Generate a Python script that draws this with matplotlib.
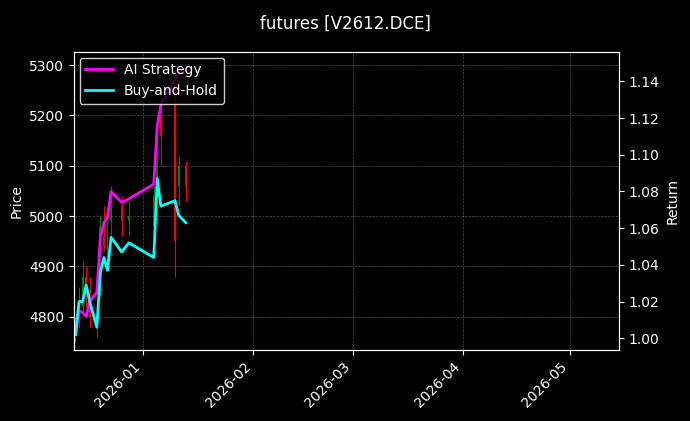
import pandas as pd
import matplotlib
matplotlib.use("Agg")
import matplotlib.pyplot as plt
from matplotlib.ticker import MultipleLocator, FormatStrFormatter

plt.style.use("dark_background")

dates = pd.to_datetime([
    "2025-12-13", "2025-12-14", "2025-12-15", "2025-12-16", "2025-12-17",
    "2025-12-19", "2025-12-20", "2025-12-21", "2025-12-22", "2025-12-23",
    "2025-12-26", "2025-12-28", "2026-01-04", "2026-01-05", "2026-01-06",
    "2026-01-10", "2026-01-11", "2026-01-13",
])
opens = [4760, 4790, 4820, 4880, 4850, 4790, 4850, 4960, 4930, 4990, 5020, 4990, 4980, 5050, 5200, 5280, 5060, 5100]
highs = [4800, 4860, 4910, 4900, 4880, 4830, 5000, 5020, 5010, 5060, 5040, 5030, 5060, 5200, 5260, 5290, 5120, 5110]
lows = [4750, 4780, 4810, 4820, 4780, 4760, 4840, 4930, 4900, 4960, 4960, 4960, 4950, 5040, 5100, 4880, 5020, 5030]
closes = [4790, 4830, 4880, 4840, 4800, 4780, 4980, 4940, 4990, 5030, 4990, 5000, 5040, 5180, 5160, 4950, 5100, 5060]
ai_strategy = [1.002, 1.015, 1.014, 1.012, 1.020, 1.025, 1.055, 1.063, 1.066, 1.080, 1.074, 1.076, 1.084, 1.116, 1.127, 1.141, 1.144, 1.146]
buy_hold = [1.002, 1.020, 1.020, 1.029, 1.020, 1.006, 1.036, 1.044, 1.037, 1.055, 1.047, 1.052, 1.044, 1.087, 1.072, 1.075, 1.067, 1.063]

fig, ax = plt.subplots(figsize=(6.9, 4.21), dpi=100)
fig.subplots_adjust(left=74 / 690, right=619 / 690, top=1 - 52 / 421, bottom=1 - 350 / 421)
fig.patch.set_facecolor("black")
ax.set_facecolor("black")

# candles
for d, o, h, l, c in zip(dates, opens, highs, lows, closes):
    col = "green" if c >= o else "red"
    ax.vlines(d, l, h, color=col, linewidth=0.8)
    ax.bar(d, abs(c - o), bottom=min(o, c), width=0.5, color=col)

ax.set_ylabel("Price")
ax.set_ylim(4734, 5326)
ax.set_xlim(pd.Timestamp("2025-12-12 14:00"), pd.Timestamp("2026-05-14 20:00"))
ax.grid(True, color="gray", linestyle="--", linewidth=0.5, alpha=0.6)

ax2 = ax.twinx()
ax2.plot(dates, ai_strategy, color="magenta", linewidth=2, label="AI Strategy")
ax2.plot(dates, buy_hold, color="cyan", linewidth=2, label="Buy-and-Hold")
ax2.set_ylim(0.9936, 1.156)
ax2.yaxis.set_major_locator(MultipleLocator(0.02))
ax2.yaxis.set_major_formatter(FormatStrFormatter("%.2f"))
ax2.set_ylabel("Return")
ax2.legend(loc="upper left", facecolor="black", edgecolor="white", framealpha=0.8,
           borderaxespad=0.4)

ax.xaxis.set_major_locator(matplotlib.dates.MonthLocator())
ax.xaxis.set_major_formatter(matplotlib.dates.DateFormatter("%Y-%m"))
plt.setp(ax.get_xticklabels(), rotation=45, ha="right")
fig.suptitle("futures [V2612.DCE]", y=0.965)

fig.savefig("out.png", facecolor="black")
